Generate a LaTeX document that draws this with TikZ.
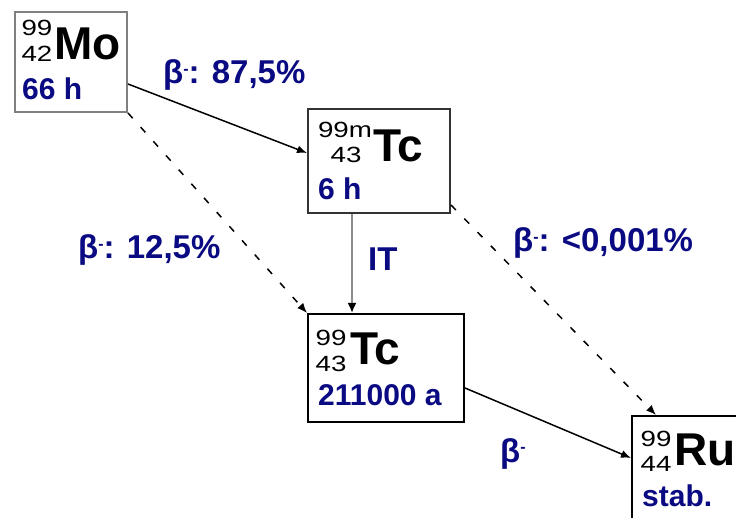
\documentclass[tikz,border=0pt]{standalone}
\usepackage{fontspec}
\setmainfont{Liberation Sans}
\usetikzlibrary{arrows.meta,calc}
\definecolor{navy}{RGB}{10,10,130}
\newcommand{\bminus}{\raisebox{0.55ex}{\fontsize{16}{16}\selectfont -}}
\newcommand{\wide}[1]{\scalebox{1.26}[1]{#1}}
\begin{document}
\begin{tikzpicture}[x=1pt,y=-1pt,
  box/.style={draw=black, line width=2pt, fill=white, inner sep=0pt},
  sym/.style={font=\fontsize{46}{46}\selectfont\bfseries, inner sep=0pt, anchor=base west},
  nuc/.style={font=\fontsize{22}{22}\selectfont, inner sep=0pt, anchor=base},
  life/.style={font=\fontsize{30}{30}\selectfont\bfseries, text=navy, inner sep=0pt, anchor=base west},
  lbl/.style={font=\fontsize{33}{33}\selectfont\bfseries, text=navy, inner sep=0pt, anchor=base west},
  decay/.style={line width=1.5pt, -{Latex[length=10pt,width=8pt]}},
  weak/.style={decay, dash pattern=on 7pt off 12pt},
]
\useasboundingbox (0,0) rectangle (736,518);
\fill[white] (0,0) rectangle (736,518);

% boxes
\node[box, draw=black!50, minimum width=112pt, minimum height=100pt] (mo) at (71,62) {};
\node[box, draw=black!80, minimum width=142pt, minimum height=104pt] (tc99m) at (379,161) {};
\node[box, minimum width=156pt, minimum height=108pt] (tc99) at (386,368) {};
\node[box, minimum width=116pt, minimum height=118pt] (ru) at (690,475) {};

% Mo
\node[nuc] (moA) at (37,36) {\wide{99}};
\node[nuc] (moZ) at (37,62) {\wide{42}};
\node[sym] (moS) at (54,60) {Mo};
\node[life] (moT) at (22,100) {66 h};

% Tc-99m
\node[nuc] (tcmA) at (345,138) {\wide{99m}};
\node[nuc] (tcmZ) at (346,163) {\wide{43}};
\node[sym] (tcmS) at (373,162) {Tc};
\node[life] (tcmT) at (318,200) {6 h};

% Tc-99
\node[nuc] (tcA) at (331,346) {\wide{99}};
\node[nuc] (tcZ) at (331,372) {\wide{43}};
\node[sym] (tcS) at (350,365) {Tc};
\node[life] (tcT) at (318,405) {211000 a};

% Ru
\node[nuc] (ruA) at (656,446) {\wide{99}};
\node[nuc] (ruZ) at (656,471) {\wide{44}};
\node[sym] (ruS) at (674,465) {Ru};
\node[life] (ruT) at (642,506) {stab.};

% connectors
\draw[decay] ([yshift=-22pt]mo.east) -- ([yshift=8pt]tc99m.west);
\draw[weak] (mo.south east) -- (tc99m.south west |- tc99.north west);
\draw[decay, draw=black!45, line width=2.5pt, -{Latex[length=10pt,width=9pt,color=black]}]
  ([xshift=-27pt]tc99m.south) -- ([xshift=-27pt]tc99m.south |- tc99.north);
\draw[weak] ([yshift=9pt]tc99m.south east) -- ([xshift=25pt]ru.north west);
\draw[decay] ([yshift=-20pt]tc99.east) -- ([yshift=17pt]ru.west);

% labels
\node[lbl] (l1) at (163,84) {β\bminus: 87,5\%};
\node[lbl] (l2) at (78,259) {β\bminus: 12,5\%};
\node[lbl] (l3) at (513,252) {β\bminus: <0,001\%};
\node[lbl] (l4) at (368,271) {IT};
\node[lbl] (l5) at (500,462) {β\bminus};
\end{tikzpicture}
\end{document}
